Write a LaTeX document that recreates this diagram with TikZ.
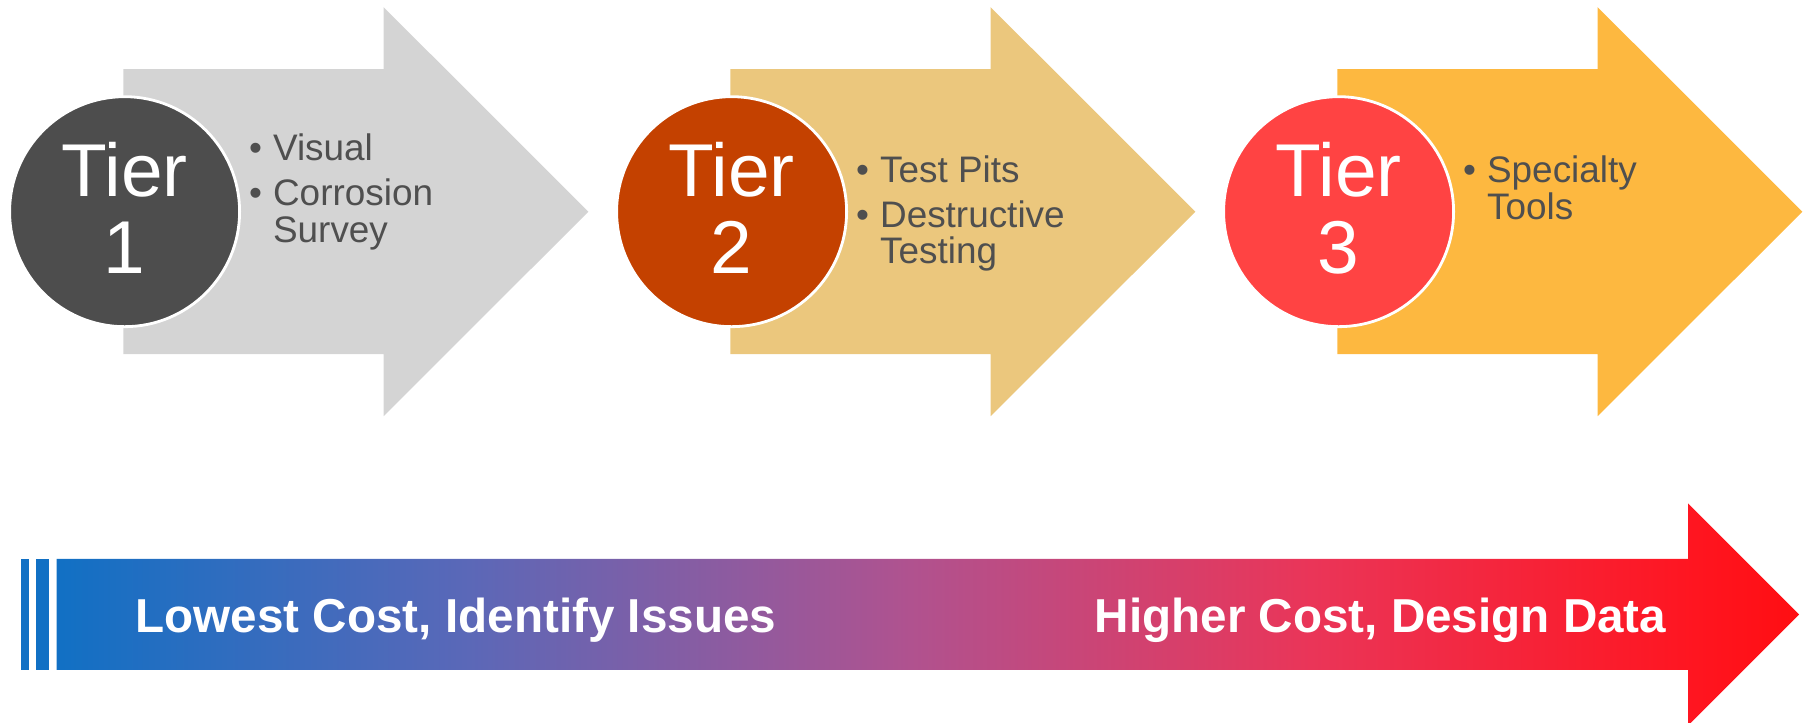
\documentclass[tikz,border=0pt]{standalone}
\usepackage{fontspec}
\setmainfont{Liberation Sans}
\usetikzlibrary{calc}

\definecolor{arrowone}{HTML}{D4D4D4}
\definecolor{arrowtwo}{HTML}{EBC77D}
\definecolor{arrowthree}{HTML}{FDB840}
\definecolor{tierone}{HTML}{4D4D4D}
\definecolor{tiertwo}{HTML}{C44100}
\definecolor{tierthree}{HTML}{FF4343}
\definecolor{bullettext}{HTML}{4F4F4F}
\definecolor{costblue}{HTML}{1170C4}
\definecolor{costb}{HTML}{5A68B8}
\definecolor{costc}{HTML}{B0528F}
\definecolor{costd}{HTML}{EA3558}
\definecolor{coste}{HTML}{FF1520}
\definecolor{costred}{HTML}{FF0E12}

\pgfdeclarehorizontalshading{costbar}{100bp}{color(0bp)=(costblue); color(25bp)=(costblue); color(36.7bp)=(costb); color(49.5bp)=(costc); color(61bp)=(costd); color(72bp)=(coste); color(75bp)=(costred); color(100bp)=(costred)}

\newcommand{\tierbullet}{\llap{\textbullet\hspace{0.11cm}}}
\newcommand{\tierlow}{\rule[-0.08cm]{0pt}{0pt}}

\tikzset{
  tiercirc/.style={circle,draw=white,line width=0.8pt,minimum size=2.3cm,inner sep=0pt,
    text=white,align=center,font=\fontsize{21.3pt}{21.9pt}\selectfont},
  tiertext/.style={anchor=north west,inner sep=0pt,align=left,text=bullettext,
    font=\fontsize{10.5pt}{10.5pt}\selectfont},
  costtext/.style={anchor=base west,inner sep=0pt,text=white,
    font=\fontsize{13.55pt}{14pt}\selectfont\bfseries}
}

\begin{document}
\begin{tikzpicture}
\useasboundingbox (0,0) rectangle (18.07,7.23);
\pgfmathsetmacro{\bodyw}{2.602}
\pgfmathsetmacro{\bodyh}{1.425}
\pgfmathsetmacro{\headl}{2.048}
\pgfmathsetmacro{\headh}{0.62}
% tier arrows
\fill[arrowone] (1.234,5.113+\bodyh) -- ++(\bodyw,0) -- ++(0,\headh) -- ++(\headl,-\bodyh-\headh) -- ++(-\headl,-\bodyh-\headh) -- ++(0,\headh) -- ++(-\bodyw,0) -- cycle;
\fill[arrowtwo] (7.304,5.113+\bodyh) -- ++(\bodyw,0) -- ++(0,\headh) -- ++(\headl,-\bodyh-\headh) -- ++(-\headl,-\bodyh-\headh) -- ++(0,\headh) -- ++(-\bodyw,0) -- cycle;
\fill[arrowthree] (13.374,5.113+\bodyh) -- ++(\bodyw,0) -- ++(0,\headh) -- ++(\headl,-\bodyh-\headh) -- ++(-\headl,-\bodyh-\headh) -- ++(0,\headh) -- ++(-\bodyw,0) -- cycle;
\node[tiercirc,fill=tierone] (tier1) at (1.246,5.113) {Tier\\1\tierlow};
\node[tiercirc,fill=tiertwo] (tier2) at (7.316,5.113) {Tier\\2\tierlow};
\node[tiercirc,fill=tierthree] (tier3) at (13.386,5.113) {Tier\\3\tierlow};
\node[tiertext] (list1) at (2.724,5.897) {\tierbullet Visual\\[2.2pt]\tierbullet Corrosion\\Survey};
\node[tiertext] (list2) at (8.794,5.68) {\tierbullet Test Pits\\[2.2pt]\tierbullet Destructive\\Testing};
\node[tiertext] (list3) at (14.864,5.68) {\tierbullet Specialty\\Tools};
% cost arrow
\fill[costblue] (0.207,0.53) rectangle (0.288,1.64);
\fill[costblue] (0.357,0.53) rectangle (0.493,1.64);
\shade[shading=costbar] (0.565,1.64) -- (16.88,1.64) -- ++(0,0.555) -- ++(1.11,-1.11) -- ++(-1.11,-1.11) -- ++(0,0.555) -- (0.565,0.53) -- cycle;
\node[costtext] (lowcost) at (1.35,0.90) {Lowest Cost, Identify Issues};
\node[costtext] (highcost) at (10.94,0.90) {Higher Cost, Design Data};
\end{tikzpicture}
\end{document}
